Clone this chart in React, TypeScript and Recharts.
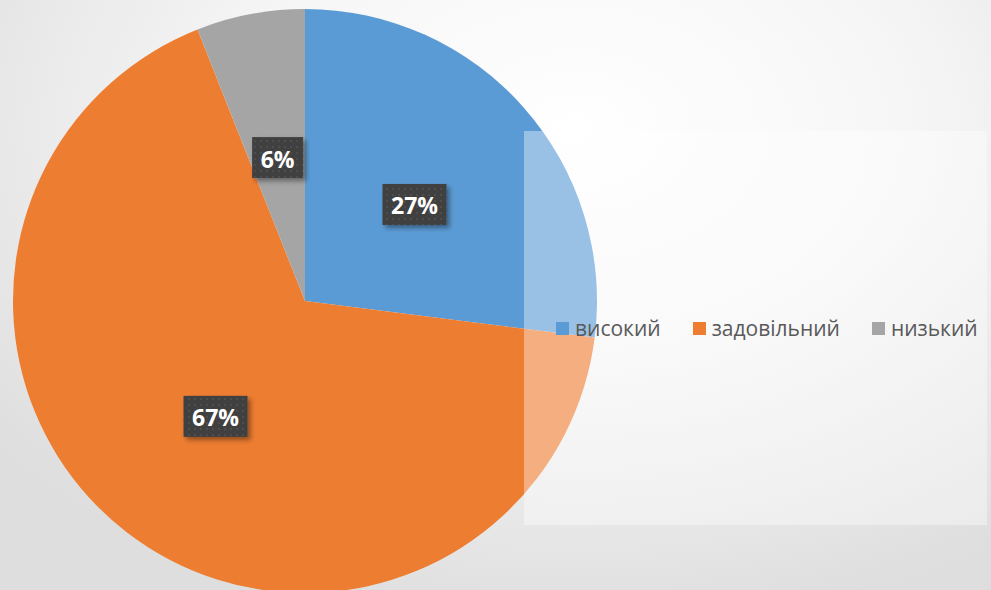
import React from "react";
import { PieChart, Pie, Cell, Legend } from "recharts";

const categories = ["високий", "задовільний", "низький"];
const shares = [27, 67, 6];
const colors = ["#5B9BD5", "#ED7D31", "#A5A5A5"];

const data = categories.map((name, i) => ({ name, value: shares[i] }));

const RADIAN = Math.PI / 180;

const renderLabel = (props: any) => {
  const { cx, cy, midAngle, outerRadius, value, index } = props;
  const r = outerRadius * 0.5;
  const x = cx + r * Math.cos(-midAngle * RADIAN);
  const y = cy + r * Math.sin(-midAngle * RADIAN);
  const text = `${value}%`;
  const w = 25 + 13 * text.length;
  const h = 41;
  const pid = `dots-${index}`;
  const fid = `shadow-${index}`;
  return (
    <g key={`lbl-${index}`}>
      <defs>
        <pattern id={pid} width="6" height="6" patternUnits="userSpaceOnUse">
          <rect width="6" height="6" fill="#404040" />
          <rect x="2" y="2" width="2" height="2" fill="#4e4e4e" />
        </pattern>
        <filter id={fid} x="-30%" y="-30%" width="160%" height="160%">
          <feDropShadow dx="3" dy="3" stdDeviation="2.5" floodColor="#000" floodOpacity="0.4" />
        </filter>
      </defs>
      <rect x={x - w / 2} y={y - h / 2} width={w} height={h} fill={`url(#${pid})`} filter={`url(#${fid})`} />
      <text
        x={x}
        y={y + 1}
        fill="#ffffff"
        textAnchor="middle"
        dominantBaseline="central"
        style={{ fontFamily: "'Open Sans', sans-serif", fontWeight: 700, fontSize: 23 }}
      >
        {text}
      </text>
    </g>
  );
};

const renderLegend = (props: any) => {
  const { payload } = props;
  return (
    <div style={{ display: "flex", alignItems: "center", fontFamily: "'Open Sans', sans-serif", fontSize: 21, color: "#595959" }}>
      {payload.map((entry: any, i: number) => (
        <div key={i} style={{ display: "flex", alignItems: "center", marginRight: 32 }}>
          <span style={{ display: "inline-block", width: 13, height: 13, background: entry.color, marginRight: 6 }} />
          <span>{entry.value}</span>
        </div>
      ))}
    </div>
  );
};

export default function App() {
  return (
    <div
      style={{
        position: "absolute",
        left: 0,
        top: 0,
        width: 991,
        height: 590,
        overflow: "hidden",
        background: "radial-gradient(ellipse 75% 85% at 58% 22%, #ffffff 0%, #f6f6f6 45%, #dedede 100%)",
      }}
    >
      <div
        style={{
          position: "absolute",
          left: 524,
          top: 131,
          width: 463,
          height: 394,
          background: "rgba(255,255,255,0.38)",
          zIndex: 1,
        }}
      />
      <PieChart width={991} height={590} margin={{ top: 0, right: 0, bottom: 0, left: 0 }}>
        <Pie
          data={data}
          dataKey="value"
          nameKey="name"
          cx={305}
          cy={301}
          outerRadius={292}
          startAngle={90}
          endAngle={-270}
          stroke="none"
          label={renderLabel}
          labelLine={false}
          isAnimationActive={false}
        >
          {data.map((d, i) => (
            <Cell key={d.name} fill={colors[i]} />
          ))}
        </Pie>
        <Legend
          content={renderLegend}
          wrapperStyle={{ position: "absolute", left: 556, top: 314, width: 440, zIndex: 2 }}
        />
      </PieChart>
    </div>
  );
}
